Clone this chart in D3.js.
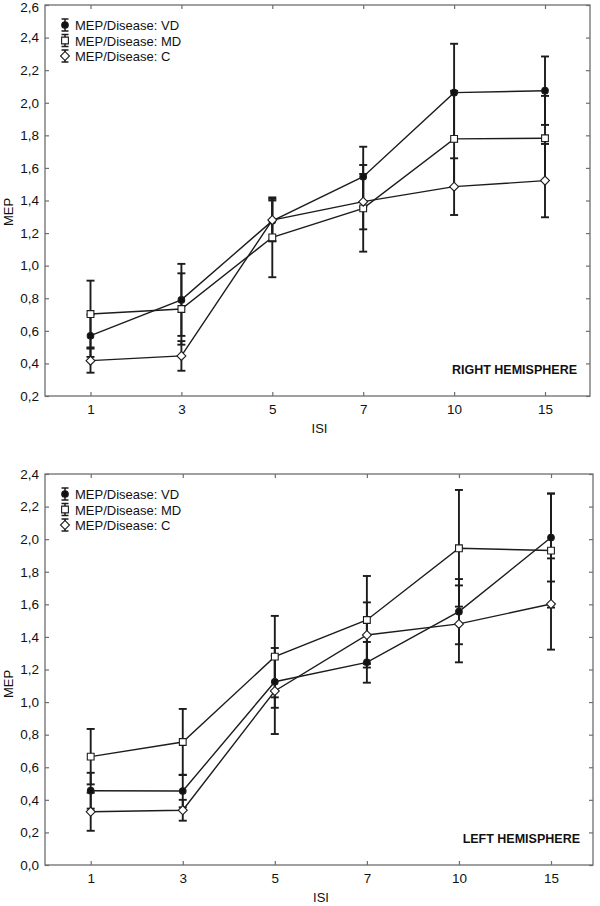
<!DOCTYPE html>
<html>
<head>
<meta charset="utf-8">
<script src="https://cdn.jsdelivr.net/npm/d3@7"></script>
<style>
  html, body { margin: 0; padding: 0; background: #fff; }
  svg { display: block; font-family: "Liberation Sans", Arial, sans-serif; }
</style>
</head>
<body>
<svg id="chart" width="600" height="906"></svg>
<script>
// ---- data ----
const isiCategories = ["1", "3", "5", "7", "10", "15"];
const seriesNames = ["MEP/Disease: VD", "MEP/Disease: MD", "MEP/Disease: C"];

// Right hemisphere (top panel)
const rightVD     = [0.57, 0.79, 1.275, 1.546, 2.062, 2.074];
const rightVDErr  = [0.13, 0.221, 0.125, 0.184, 0.30, 0.21];
const rightMD     = [0.703, 0.734, 1.174, 1.352, 1.778, 1.782];
const rightMDErr  = [0.205, 0.219, 0.245, 0.266, 0.295, 0.26];
const rightC      = [0.417, 0.446, 1.28, 1.393, 1.485, 1.522];
const rightCErr   = [0.074, 0.091, 0.13, 0.17, 0.174, 0.225];

// Left hemisphere (bottom panel)
const leftVD      = [0.456, 0.454, 1.125, 1.244, 1.555, 2.01];
const leftVDErr   = [0.11, 0.10, 0.16, 0.125, 0.20, 0.27];
const leftMD      = [0.665, 0.755, 1.279, 1.504, 1.944, 1.93];
const leftMDErr   = [0.17, 0.203, 0.25, 0.27, 0.358, 0.35];
const leftC       = [0.327, 0.336, 1.068, 1.412, 1.48, 1.602];
const leftCErr    = [0.117, 0.064, 0.264, 0.2, 0.236, 0.28];

const rightYTicks = [0.2, 0.4, 0.6, 0.8, 1.0, 1.2, 1.4, 1.6, 1.8, 2.0, 2.2, 2.4, 2.6];
const leftYTicks  = [0.0, 0.2, 0.4, 0.6, 0.8, 1.0, 1.2, 1.4, 1.6, 1.8, 2.0, 2.2, 2.4];

const xTitle = "ISI";
const yTitle = "MEP";

// ---- drawing ----
const svg = d3.select("#chart");
const LINE = "#1c1c1c";
const FRAME = "#6e6e6e";
const fmt = v => d3.format(".1f")(v).replace(".", ",");

const markerDefs = [
  { type: d3.symbolCircle, size: 34, fill: "#111", rotate: 0 },
  { type: d3.symbolSquare, size: 46, fill: "#fff", rotate: 0 },
  { type: d3.symbolSquare, size: 40, fill: "#fff", rotate: 45 }
];

function drawPanel(p) {
  const g = svg.append("g");
  const x = d3.scalePoint().domain(isiCategories).range([p.x0, p.x1]);
  const y = d3.scaleLinear().domain([p.yTicks[0], p.yTicks[p.yTicks.length - 1]]).range([p.bottom, p.top]);

  // frame
  g.append("rect")
    .attr("x", p.left).attr("y", p.top)
    .attr("width", p.right - p.left).attr("height", p.bottom - p.top)
    .attr("fill", "none").attr("stroke", FRAME).attr("stroke-width", 1.3);

  // axes with inward ticks
  const yL = g.append("g").attr("transform", `translate(${p.left},0)`)
    .call(d3.axisLeft(y).tickValues(p.yTicks).tickFormat(fmt).tickSizeInner(-4).tickSizeOuter(0).tickPadding(6));
  const yR = g.append("g").attr("transform", `translate(${p.right},0)`)
    .call(d3.axisRight(y).tickValues(p.yTicks).tickFormat("").tickSizeInner(-4).tickSizeOuter(0));
  const xB = g.append("g").attr("transform", `translate(0,${p.bottom})`)
    .call(d3.axisBottom(x).tickSizeInner(-4).tickSizeOuter(0).tickPadding(8));
  const xT = g.append("g").attr("transform", `translate(0,${p.top})`)
    .call(d3.axisTop(x).tickFormat("").tickSizeInner(-4).tickSizeOuter(0));
  [yL, yR, xB, xT].forEach(a => {
    a.select(".domain").remove();
    a.selectAll(".tick line").attr("stroke", FRAME).attr("stroke-width", 1.2);
    a.selectAll("text").attr("font-size", 13.5).attr("fill", "#111")
      .attr("font-family", "'Liberation Sans', Arial, sans-serif");
  });
  // keep the top-most y label inside the picture
  yL.selectAll(".tick text").filter(d => y(d) < 8).attr("dy", "0.32em").attr("y", 2);

  // axis titles
  g.append("text").attr("x", (p.left + p.right) / 2 + 2).attr("y", p.bottom + 37)
    .attr("text-anchor", "middle").attr("font-size", 13).attr("fill", "#111").text(xTitle);
  g.append("text")
    .attr("transform", `translate(13,${p.yTitleY}) rotate(-90)`)
    .attr("text-anchor", "middle").attr("font-size", 13).attr("fill", "#111").text(yTitle);

  // series: error bars
  p.series.forEach(s => {
    const pts = s.values.map((v, j) => ({ c: isiCategories[j], v, e: s.errs[j] }));
    const eb = g.append("g");
    pts.forEach(d => {
      const cx = x(d.c);
      eb.append("line").attr("x1", cx).attr("x2", cx)
        .attr("y1", y(d.v + d.e)).attr("y2", y(d.v - d.e))
        .attr("stroke", LINE).attr("stroke-width", 1.9);
      [d.v + d.e, d.v - d.e].forEach(val => {
        eb.append("line").attr("x1", cx - 4).attr("x2", cx + 4)
          .attr("y1", y(val)).attr("y2", y(val))
          .attr("stroke", LINE).attr("stroke-width", 1.9);
      });
    });
  });
  // lines
  p.series.forEach(s => {
    const pts = s.values.map((v, j) => ({ c: isiCategories[j], v }));
    g.append("path").datum(pts)
      .attr("d", d3.line().x(d => x(d.c)).y(d => y(d.v)))
      .attr("fill", "none").attr("stroke", LINE).attr("stroke-width", 1.4);
  });
  // markers
  p.series.forEach((s, i) => {
    const m = markerDefs[i];
    const pts = s.values.map((v, j) => ({ c: isiCategories[j], v }));
    g.selectAll(null).data(pts).enter().append("path")
      .attr("d", d3.symbol().type(m.type).size(m.size))
      .attr("transform", d => `translate(${x(d.c)},${y(d.v)}) rotate(${m.rotate})`)
      .attr("fill", m.fill).attr("stroke", LINE).attr("stroke-width", 1.1);
  });

  // legend
  const lx = p.left + 20;
  seriesNames.forEach((name, i) => {
    const ly = p.top + 20 + i * 15.5;
    const m = markerDefs[i];
    g.append("line").attr("x1", lx).attr("x2", lx).attr("y1", ly - 6).attr("y2", ly + 6)
      .attr("stroke", LINE).attr("stroke-width", 1.5);
    [ly - 6, ly + 6].forEach(yy => g.append("line").attr("x1", lx - 3.5).attr("x2", lx + 3.5)
      .attr("y1", yy).attr("y2", yy).attr("stroke", LINE).attr("stroke-width", 1.5));
    g.append("path").attr("d", d3.symbol().type(m.type).size(m.size))
      .attr("transform", `translate(${lx},${ly}) rotate(${m.rotate})`)
      .attr("fill", m.fill).attr("stroke", LINE).attr("stroke-width", 1.1);
    g.append("text").attr("x", lx + 10).attr("y", ly + 5)
      .attr("font-size", 13).attr("fill", "#111").text(name);
  });

  // panel label
  g.append("text").attr("x", p.labelX).attr("y", p.bottom - 22)
    .attr("text-anchor", "end").attr("font-size", 12.5).attr("font-weight", "bold")
    .attr("fill", "#111").text(p.label);
}

drawPanel({
  left: 45, right: 590, top: 5, bottom: 396, x0: 90.5, x1: 545,
  yTicks: rightYTicks, yTitleY: 212, label: "RIGHT HEMISPHERE", labelX: 577,
  series: [
    { values: rightVD, errs: rightVDErr },
    { values: rightMD, errs: rightMDErr },
    { values: rightC, errs: rightCErr }
  ]
});
drawPanel({
  left: 45, right: 593, top: 474, bottom: 865, x0: 90.7, x1: 551,
  yTicks: leftYTicks, yTitleY: 684, label: "LEFT HEMISPHERE", labelX: 580,
  series: [
    { values: leftVD, errs: leftVDErr },
    { values: leftMD, errs: leftMDErr },
    { values: leftC, errs: leftCErr }
  ]
});
</script>
</body>
</html>
